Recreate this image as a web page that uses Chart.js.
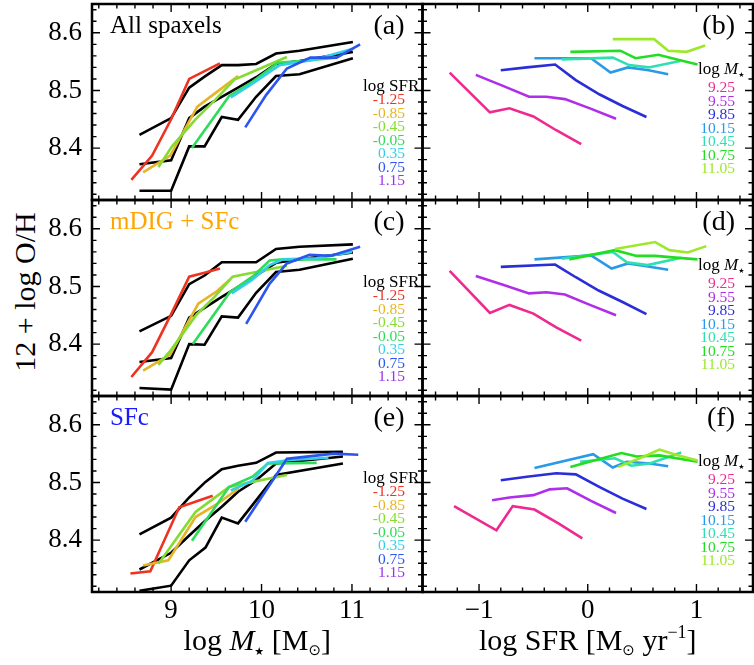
<!DOCTYPE html>
<html>
<head>
<meta charset="utf-8">
<script src="https://cdn.jsdelivr.net/npm/chart.js"></script>
<style>
  body { margin: 0; background: #fff; }
  #fig { position: relative; width: 754px; height: 665px; overflow: hidden; }
  #fig canvas { position: absolute; }
  .ytitle {
    position: absolute; left: 25px; top: 292px;
    transform: translate(-50%, -50%) rotate(-90deg);
    font: 30px 'Liberation Serif', serif; white-space: nowrap;
  }
</style>
</head>
<body>
<div id="fig">
  <div class="ytitle">12 + log O/H</div>
</div>
<script>
// ---- legend categories ----
const sfrLabels = ['-1.25', '-0.85', '-0.45', '-0.05', '0.35', '0.75', '1.15'];
const sfrColors = ['#ee3322', '#e6b428', '#84dc30', '#2edb5a', '#33cfe8', '#2b55ee', '#9b30e8'];
const massLabels = ['9.25', '9.55', '9.85', '10.15', '10.45', '10.75', '11.05'];
const massColors = ['#ee2a90', '#b02ee8', '#2a2ed8', '#2a9ae8', '#2ee0b0', '#22dd22', '#9de82a'];

// ---- tick labels ----
const yTicks = [8.4, 8.5, 8.6];
const yTickLabels = ['8.4', '8.5', '8.6'];
const massTicks = [9, 10, 11];
const massTickLabels = ['9', '10', '11'];
const sfrTicks = [-1, 0, 1];
const sfrTickLabels = ['\u22121', '0', '1'];

// ---- black lines (left panels), x = log M* ----
const massBinsAC = [8.65, 9.0, 9.2, 9.37, 9.56, 9.74, 9.94, 10.16, 10.42, 11.01];
const massBinsE = [8.65, 9.0, 9.2, 9.38, 9.56, 9.74, 9.94, 10.16, 10.9];

const aUpper = [8.423, 8.452, 8.505, 8.524, 8.544, 8.544, 8.546, 8.564, 8.569, 8.584];
const aMid   = [8.372, 8.379, 8.452, 8.472, 8.489, 8.505, 8.523, 8.546, 8.551, 8.567];
const aLow   = [8.326, 8.326, 8.403, 8.403, 8.454, 8.449, 8.489, 8.525, 8.528, 8.556];

const cUpper = [8.422, 8.449, 8.504, 8.519, 8.542, 8.542, 8.542, 8.565, 8.569, 8.573];
const cMid   = [8.369, 8.376, 8.446, 8.463, 8.482, 8.499, 8.519, 8.541, 8.547, 8.559];
const cLow   = [8.324, 8.321, 8.400, 8.399, 8.448, 8.446, 8.489, 8.525, 8.529, 8.548];

const eUpper = [8.410, 8.439, 8.474, 8.501, 8.523, 8.529, 8.534, 8.552, 8.553];
const eMid   = [8.349, 8.378, 8.408, 8.434, 8.458, 8.484, 8.504, 8.533, 8.545];
const eLow   = [8.312, 8.321, 8.365, 8.387, 8.439, 8.429, 8.469, 8.513, 8.533];

// ---- coloured lines at fixed SFR (left), [log M*, O/H] ----
const aSfr = [
  [[8.56, 8.345], [8.79, 8.387], [9.0, 8.45], [9.2, 8.52], [9.54, 8.547]],
  [[8.69, 8.358], [8.99, 8.387], [9.29, 8.472], [9.51, 8.498], [9.74, 8.525]],
  [[8.86, 8.367], [9.01, 8.403], [9.27, 8.45], [9.49, 8.484], [9.7, 8.519], [9.94, 8.535], [10.28, 8.558]],
  [[9.23, 8.4], [9.64, 8.49], [9.9, 8.515], [10.18, 8.548], [10.5, 8.552], [10.83, 8.557]],
  [[9.66, 8.488], [9.9, 8.512], [10.2, 8.544], [10.57, 8.553], [11.02, 8.573]],
  [[9.82, 8.436], [10.05, 8.492], [10.28, 8.538], [10.54, 8.557], [10.83, 8.557], [11.09, 8.58]]
];
const cSfr = [
  [[8.56, 8.343], [8.79, 8.386], [9.0, 8.452], [9.2, 8.517], [9.37, 8.524], [9.54, 8.531]],
  [[8.69, 8.354], [8.99, 8.382], [9.3, 8.47], [9.51, 8.492], [9.65, 8.512]],
  [[8.86, 8.364], [9.0, 8.39], [9.28, 8.451], [9.48, 8.482], [9.68, 8.517], [9.94, 8.525], [10.28, 8.536]],
  [[9.24, 8.4], [9.65, 8.49], [9.9, 8.517], [10.09, 8.545], [10.24, 8.547], [10.83, 8.547]],
  [[9.67, 8.488], [9.89, 8.511], [10.09, 8.537], [10.24, 8.547], [10.6, 8.549], [11.0, 8.56]],
  [[9.83, 8.435], [10.09, 8.505], [10.28, 8.54], [10.53, 8.555], [10.76, 8.553], [11.09, 8.569]]
];
const eSfr = [
  [[8.55, 8.342], [8.77, 8.346], [9.09, 8.457], [9.46, 8.477]],
  [[8.69, 8.356], [8.97, 8.365], [9.27, 8.44], [9.51, 8.463], [9.75, 8.49]],
  [[8.86, 8.359], [9.27, 8.449], [9.64, 8.492], [9.9, 8.501], [10.28, 8.513]],
  [[9.23, 8.399], [9.64, 8.492], [9.9, 8.51], [10.07, 8.533], [10.61, 8.534]],
  [[9.66, 8.486], [9.9, 8.503], [10.07, 8.534], [10.31, 8.539], [10.74, 8.543]],
  [[9.82, 8.432], [10.13, 8.505], [10.28, 8.541], [10.8, 8.55], [11.07, 8.548]]
];

// ---- coloured lines at fixed mass (right), [log SFR, O/H] ----
const bMass = [
  [[-1.27, 8.531], [-0.9, 8.462], [-0.72, 8.469], [-0.5, 8.455], [-0.29, 8.431], [-0.06, 8.407]],
  [[-1.03, 8.527], [-0.78, 8.508], [-0.54, 8.489], [-0.38, 8.489], [-0.21, 8.485], [0.02, 8.469], [0.26, 8.451]],
  [[-0.8, 8.535], [-0.56, 8.54], [-0.3, 8.545], [-0.11, 8.518], [0.11, 8.493], [0.32, 8.473], [0.54, 8.454]],
  [[-0.49, 8.556], [0.03, 8.556], [0.21, 8.531], [0.37, 8.54], [0.56, 8.535], [0.74, 8.528]],
  [[-0.24, 8.554], [0.23, 8.557], [0.38, 8.544], [0.56, 8.54], [0.85, 8.551]],
  [[-0.16, 8.567], [0.3, 8.569], [0.44, 8.556], [0.65, 8.562], [0.84, 8.553], [1.01, 8.545]],
  [[0.23, 8.589], [0.61, 8.589], [0.74, 8.569], [0.91, 8.567], [1.08, 8.578]]
];
const dMass = [
  [[-1.27, 8.527], [-0.9, 8.454], [-0.72, 8.468], [-0.5, 8.453], [-0.29, 8.429], [-0.06, 8.406]],
  [[-1.03, 8.518], [-0.78, 8.503], [-0.54, 8.488], [-0.38, 8.49], [-0.21, 8.486], [0.02, 8.468], [0.26, 8.45]],
  [[-0.8, 8.534], [-0.3, 8.538], [-0.11, 8.516], [0.1, 8.493], [0.32, 8.473], [0.54, 8.452]],
  [[-0.49, 8.547], [0.03, 8.554], [0.22, 8.531], [0.37, 8.54], [0.54, 8.535], [0.74, 8.529]],
  [[-0.24, 8.548], [0.23, 8.56], [0.36, 8.542], [0.55, 8.537], [0.86, 8.55]],
  [[-0.17, 8.547], [0.25, 8.563], [0.45, 8.553], [0.62, 8.553], [0.81, 8.55], [1.01, 8.547]],
  [[0.25, 8.565], [0.62, 8.577], [0.75, 8.563], [0.92, 8.559], [1.09, 8.57]]
];
const fMass = [
  [[-1.23, 8.459], [-0.84, 8.417], [-0.69, 8.459], [-0.49, 8.453], [-0.27, 8.429], [-0.05, 8.403]],
  [[-0.88, 8.469], [-0.72, 8.474], [-0.5, 8.478], [-0.35, 8.488], [-0.19, 8.49], [0.03, 8.468], [0.26, 8.447]],
  [[-0.8, 8.504], [-0.56, 8.51], [-0.29, 8.516], [-0.11, 8.514], [0.11, 8.492], [0.32, 8.472], [0.54, 8.454]],
  [[-0.49, 8.525], [0.05, 8.549], [0.23, 8.526], [0.36, 8.536], [0.57, 8.533], [0.74, 8.528]],
  [[-0.07, 8.536], [0.25, 8.542], [0.4, 8.529], [0.57, 8.533], [0.86, 8.552]],
  [[-0.16, 8.527], [0.31, 8.551], [0.45, 8.545], [0.66, 8.547], [1.01, 8.536]],
  [[0.28, 8.527], [0.48, 8.542], [0.66, 8.557], [0.81, 8.548], [1.01, 8.538]]
];

const SERIF = "'Liberation Serif', 'DejaVu Serif', serif";
const SYM = "'DejaVu Sans', sans-serif";
const STAR = '\u2605';
const Y_RANGE = { min: 8.31, max: 8.65 };
const MASS_RANGE = { min: 8.125, max: 11.78 };
const SFR_RANGE = { min: -1.52, max: 1.52 };

function tickValues(min, max, step) {
  const out = [];
  for (let k = Math.ceil(min / step - 1e-9); k * step <= max + 1e-9; k++) out.push(k * step);
  return out;
}
const isMajor = (v, step) => Math.abs(v / step - Math.round(v / step)) < 1e-6;

// box + inward ticks on all four sides
const frame = {
  id: 'frame',
  afterDatasetsDraw(chart) {
    const { ctx, chartArea: a, scales: { x, y } } = chart;
    ctx.save();
    ctx.strokeStyle = '#000';
    ctx.lineWidth = 1.4;
    ctx.beginPath();
    tickValues(x.min, x.max, 0.2).forEach(v => {
      const px = x.getPixelForValue(v);
      const len = isMajor(v, 1) ? 8 : 4.5;
      ctx.moveTo(px, a.bottom); ctx.lineTo(px, a.bottom - len);
      ctx.moveTo(px, a.top); ctx.lineTo(px, a.top + len);
    });
    tickValues(y.min, y.max, 0.02).forEach(v => {
      const py = y.getPixelForValue(v);
      const len = isMajor(v, 0.1) ? 8 : 4.5;
      ctx.moveTo(a.left, py); ctx.lineTo(a.left + len, py);
      ctx.moveTo(a.right, py); ctx.lineTo(a.right - len, py);
    });
    ctx.stroke();
    ctx.lineWidth = 2.5;
    ctx.strokeRect(a.left, a.top, a.right - a.left, a.bottom - a.top);
    ctx.restore();
  }
};

function richText(ctx, parts, x, y, align) {
  let w = 0;
  parts.forEach(p => { ctx.font = p.font; w += ctx.measureText(p.t).width; });
  let cx = align === 'center' ? x - w / 2 : x;
  ctx.textAlign = 'left';
  parts.forEach(p => {
    ctx.font = p.font;
    ctx.fillText(p.t, cx, y + (p.dy || 0));
    cx += ctx.measureText(p.t).width;
  });
}

const panelText = {
  id: 'panelText',
  afterDraw(chart, args, o) {
    const { ctx, chartArea: a } = chart;
    ctx.save();
    ctx.textBaseline = 'alphabetic';
    ctx.fillStyle = '#000';
    ctx.font = `28px ${SERIF}`;
    ctx.textAlign = 'right';
    ctx.fillText(o.label, a.right - 18, a.top + 30);

    if (o.title) {
      ctx.textAlign = 'left';
      ctx.fillStyle = o.titleColor;
      ctx.font = `25px ${SERIF}`;
      ctx.fillText(o.title, a.left + 18, a.top + 29);
    }

    ctx.fillStyle = '#000';
    if (o.legend === 'sfr') {
      ctx.textAlign = 'left';
      ctx.font = `17px ${SERIF}`;
      ctx.fillText('log SFR', a.left + 271, a.top + 87);
      ctx.textAlign = 'right';
      ctx.font = `15.5px ${SERIF}`;
      sfrLabels.forEach((t, i) => {
        ctx.fillStyle = sfrColors[i];
        ctx.fillText(t, a.right - 17.5, a.top + 100 + 13.5 * i);
      });
    } else {
      richText(ctx, [
        { t: 'log ', font: `17px ${SERIF}` },
        { t: 'M', font: `italic 17px ${SERIF}` },
        { t: STAR, font: `7px ${SYM}`, dy: 3 }
      ], a.left + 275.5, a.top + 70, 'left');
      ctx.textAlign = 'right';
      ctx.font = `15.5px ${SERIF}`;
      massLabels.forEach((t, i) => {
        ctx.fillStyle = massColors[i];
        ctx.fillText(t, a.right - 18, a.top + 88 + 13.5 * i);
      });
    }

    ctx.fillStyle = '#000';
    const cx = (a.left + a.right) / 2;
    if (o.xTitle === 'mass') {
      richText(ctx, [
        { t: 'log ', font: `30px ${SERIF}` },
        { t: 'M', font: `italic 30px ${SERIF}` },
        { t: STAR, font: `11px ${SYM}`, dy: 5 },
        { t: ' [M', font: `30px ${SERIF}` },
        { t: '\u2299', font: `15px ${SYM}`, dy: 5 },
        { t: ']', font: `30px ${SERIF}` }
      ], cx, a.bottom + 58, 'center');
    } else if (o.xTitle === 'sfr') {
      richText(ctx, [
        { t: 'log SFR [M', font: `30px ${SERIF}` },
        { t: '\u2299', font: `15px ${SYM}`, dy: 5 },
        { t: ' yr', font: `30px ${SERIF}` },
        { t: '\u22121', font: `18px ${SERIF}`, dy: -12 },
        { t: ']', font: `30px ${SERIF}` }
      ], cx, a.bottom + 58, 'center');
    }
    ctx.restore();
  }
};

const cols = [
  { left: 0, w: 424, padL: 0, padR: 1.5 },
  { left: 420, w: 334, padL: 2.5, padR: 1 }
];
const rows = [
  { top: 0, h: 202, padT: 4, padB: 2 },
  { top: 198, h: 200, padT: 2, padB: 2 },
  { top: 394, h: 271, padT: 2, padB: 0 }
];

function lineSet(points, color, order) {
  return {
    data: points.map(([x, y]) => ({ x, y })),
    borderColor: color, borderWidth: 2.6, pointRadius: 0,
    tension: 0, fill: false, order
  };
}

function leftDatasets(bins, black, sfrLines) {
  return [
    ...black.map((arr, i) => lineSet(bins.map((m, j) => [m, arr[j]]), '#000', 100 + i)),
    ...sfrLines.map((pts, i) => lineSet(pts, sfrColors[i], 50 - i))
  ];
}
function rightDatasets(massLines) {
  return massLines.map((pts, i) => lineSet(pts, massColors[i], 50 - i));
}

const panels = [
  { col: 0, row: 0, label: '(a)', title: 'All spaxels', titleColor: '#000',
    datasets: leftDatasets(massBinsAC, [aUpper, aMid, aLow], aSfr) },
  { col: 1, row: 0, label: '(b)', datasets: rightDatasets(bMass) },
  { col: 0, row: 1, label: '(c)', title: 'mDIG + SFc', titleColor: '#ffa500',
    datasets: leftDatasets(massBinsAC, [cUpper, cMid, cLow], cSfr) },
  { col: 1, row: 1, label: '(d)', datasets: rightDatasets(dMass) },
  { col: 0, row: 2, label: '(e)', title: 'SFc', titleColor: '#1a1aff',
    datasets: leftDatasets(massBinsE, [eUpper, eMid, eLow], eSfr) },
  { col: 1, row: 2, label: '(f)', datasets: rightDatasets(fMass) }
];

const fig = document.getElementById('fig');

panels.forEach(p => {
  const c = cols[p.col], r = rows[p.row];
  const isLeft = p.col === 0, isBottom = p.row === 2;
  const canvas = document.createElement('canvas');
  canvas.width = c.w; canvas.height = r.h;
  canvas.style.left = c.left + 'px';
  canvas.style.top = r.top + 'px';
  fig.appendChild(canvas);

  const xr = isLeft ? MASS_RANGE : SFR_RANGE;
  const xt = isLeft ? massTicks : sfrTicks;
  const xl = isLeft ? massTickLabels : sfrTickLabels;

  new Chart(canvas, {
    type: 'line',
    data: { datasets: p.datasets },
    options: {
      responsive: false,
      animation: false,
      devicePixelRatio: 1,
      layout: { padding: { left: c.padL, right: c.padR, top: r.padT, bottom: r.padB } },
      plugins: {
        legend: { display: false },
        tooltip: { enabled: false },
        panelText: {
          label: p.label, title: p.title, titleColor: p.titleColor,
          legend: isLeft ? 'sfr' : 'mass',
          xTitle: isBottom ? (isLeft ? 'mass' : 'sfr') : null
        }
      },
      scales: {
        x: {
          type: 'linear', min: xr.min, max: xr.max,
          display: isBottom,
          grid: { display: false, drawTicks: false },
          border: { display: false },
          ticks: {
            autoSkip: false, maxRotation: 0, padding: 3, color: '#000',
            font: { family: SERIF, size: 27 },
            callback: (v, i) => xl[i]
          },
          afterBuildTicks: axis => { axis.ticks = xt.map(v => ({ value: v })); },
          afterFit: axis => {
            axis.height = isBottom ? 73 : 0;
            axis.paddingLeft = 0; axis.paddingRight = 0;
          }
        },
        y: {
          type: 'linear', min: Y_RANGE.min, max: Y_RANGE.max,
          display: isLeft,
          grid: { display: false, drawTicks: false },
          border: { display: false },
          ticks: {
            autoSkip: false, padding: 10, color: '#000',
            font: { family: SERIF, size: 27 },
            callback: (v, i) => yTickLabels[i]
          },
          afterBuildTicks: axis => { axis.ticks = yTicks.map(v => ({ value: v })); },
          afterFit: axis => {
            axis.width = isLeft ? 92 : 0;
            axis.paddingTop = 0; axis.paddingBottom = 0;
          }
        }
      }
    },
    plugins: [frame, panelText]
  });
});
</script>
</body>
</html>
